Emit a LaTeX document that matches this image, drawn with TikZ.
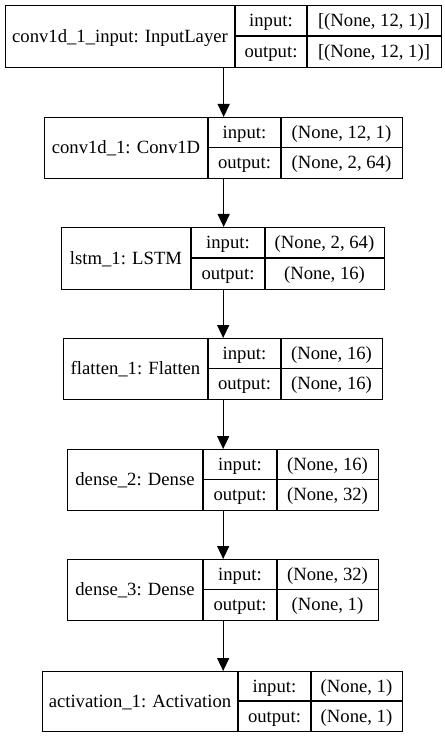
\documentclass[tikz,border=0pt]{standalone}
\usepackage{fontspec}
\setmainfont{Liberation Serif}
\usetikzlibrary{arrows.meta}

% one layer record: name, left, top, right, bottom, first divider, second divider
\newcommand{\layerbox}[7]{%
  \node[frame, anchor=north west,
        minimum width={(#4-#2)*0.75pt}, minimum height={(#5-#3)*0.75pt}]
        (#1) at (#2,#3) {};
  \draw[rule] (#6,#3) -- (#6,#5);
  \draw[rule] (#7,#3) -- (#7,#5);
  \draw[rule] (#6,{(#3+#5)/2}) -- (#4,{(#3+#5)/2});
  \coordinate (#1-a) at ({(#2+#6)/2},{(#3+#5)/2});
  \coordinate (#1-b) at ({(#6+#7)/2},{(3*#3+#5)/4});
  \coordinate (#1-c) at ({(#6+#7)/2},{(#3+3*#5)/4});
  \coordinate (#1-d) at ({(#7+#4)/2},{(3*#3+#5)/4});
  \coordinate (#1-e) at ({(#7+#4)/2},{(#3+3*#5)/4});
}
% texts of a layer record: name, label, input shape, output shape
\newcommand{\layertext}[4]{%
  \node[lbl] (#1-name) at ([yshift=-4.6pt]#1-a) {#2};
  \node[lbl] (#1-inkey) at ([yshift=-4.6pt]#1-b) {input:};
  \node[lbl] (#1-outkey) at ([yshift=-4.6pt]#1-c) {output:};
  \node[lbl] (#1-inval) at ([yshift=-4.6pt]#1-d) {#3};
  \node[lbl] (#1-outval) at ([yshift=-4.6pt]#1-e) {#4};
}

\tikzset{
  frame/.style={draw, line width=1pt, inner sep=0pt},
  rule/.style={line width=1pt},
  lbl/.style={anchor=base, inner sep=0pt, font=\fontsize{14}{16}\selectfont},
  flow/.style={-{Triangle[length=9.75pt,width=9pt]}, line width=1pt},
}

\begin{document}
\begin{tikzpicture}[x=0.75pt, y=-0.75pt]
  \useasboundingbox[fill=white] (0,0) rectangle (445,737);

  \layerbox{l1}{5}{5}{441}{67}{235}{307}
  \layertext{l1}{conv1d\_1\_input: InputLayer}{[(None, 12, 1)]}{[(None, 12, 1)]}

  \layerbox{l2}{44}{117}{402}{178}{208}{281}
  \layertext{l2}{conv1d\_1: Conv1D}{(None, 12, 1)}{(None, 2, 64)}

  \layerbox{l3}{61}{227}{384}{289}{191}{265}
  \layertext{l3}{lstm\_1: LSTM}{(None, 2, 64)}{(None, 16)}

  \layerbox{l4}{63}{338}{382}{399}{208}{281}
  \layertext{l4}{flatten\_1: Flatten}{(None, 16)}{(None, 16)}

  \layerbox{l5}{67}{449}{378}{510}{203}{277}
  \layertext{l5}{dense\_2: Dense}{(None, 16)}{(None, 32)}

  \layerbox{l6}{67}{559}{378}{620}{203}{277}
  \layertext{l6}{dense\_3: Dense}{(None, 32)}{(None, 1)}

  \layerbox{l7}{42}{671}{402}{731}{238}{311}
  \layertext{l7}{activation\_1: Activation}{(None, 1)}{(None, 1)}

  % data flow between consecutive layers
  \foreach \a/\b in {l1/l2, l2/l3, l3/l4, l4/l5, l5/l6, l6/l7}
    \draw[flow] (\a.south) -- (\a.south |- \b.north);
\end{tikzpicture}
\end{document}
